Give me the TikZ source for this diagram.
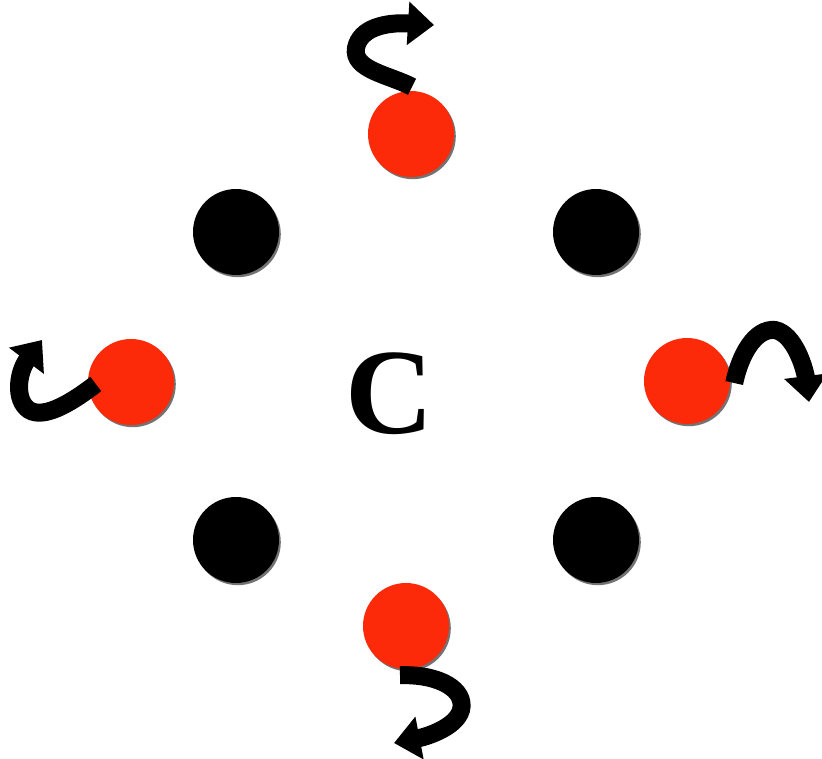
\documentclass[tikz,border=0pt]{standalone}
\usepackage{fontspec}
\setmainfont{Liberation Serif}
\usetikzlibrary{arrows.meta}
\definecolor{ballred}{RGB}{252,42,8}
\tikzset{
  ball/.style={circle, inner sep=0pt, minimum size=86pt,
    preaction={fill=black!55, transform canvas={shift={(1.8pt,-2.2pt)}}}},
  redball/.style={ball, fill=ballred},
  blackball/.style={ball, fill=black},
  spin/.style={line width=18pt, -{Triangle[width=42pt,length=26pt]}},
}
\begin{document}
\begin{tikzpicture}[x=1pt,y=-1pt]
\useasboundingbox (0,0) rectangle (822,759);
\node[redball] (rt) at (411,134) {};
\node[redball] (rl) at (131,382) {};
\node[redball] (rr) at (687,381) {};
\node[redball] (rb) at (406,626) {};
\node[blackball] (btl) at (236,232) {};
\node[blackball] (btr) at (596,232) {};
\node[blackball] (bbl) at (236,540) {};
\node[blackball] (bbr) at (596,540) {};
\node (c) at (390,394) {\fontsize{122}{122}\selectfont\bfseries C};
\coordinate (tt) at (434,25);
\coordinate (tl) at (42,340);
\coordinate (tr) at (809,402);
\coordinate (tb) at (394,743);
\draw[spin] ([shift={(1,-4)}]rt.north) .. controls (390,75) and (352,70) .. (356,48) .. controls (360,28) and (385,22) .. (tt);
\draw[spin] ([shift={(8,2)}]rl.west) .. controls (75,400) and (45,420) .. (29,410) .. controls (14,400) and (18,372) .. (tl);
\draw[spin] ([shift={(4,2)}]rr.east) .. controls (740,355) and (755,328) .. (775,330) .. controls (795,334) and (805,370) .. (tr);
\draw[spin] ([shift={(-6,6)}]rb.south) .. controls (440,674) and (466,690) .. (461,710) .. controls (456,728) and (425,737) .. (tb);
\end{tikzpicture}
\end{document}
